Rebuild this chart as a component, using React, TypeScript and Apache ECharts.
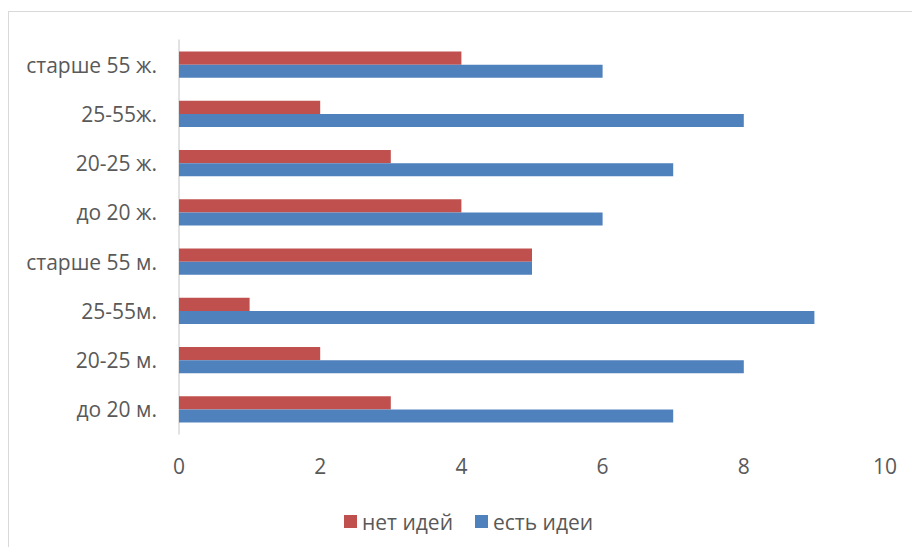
import React, { useEffect, useRef } from "react";
import * as echarts from "echarts";

const categories = [
  "до 20 м.",
  "20-25 м.",
  "25-55м.",
  "старше 55 м.",
  "до 20 ж.",
  "20-25 ж.",
  "25-55ж.",
  "старше 55 ж.",
];
const noIdeas = [3, 2, 1, 5, 4, 3, 2, 4];
const hasIdeas = [7, 8, 9, 5, 6, 7, 8, 6];
const xTicks = { min: 0, max: 10, interval: 2 };

const FONT = "'Open Sans', sans-serif";
const TEXT = "#595959";
const FS = 21;

export default function App() {
  const ref = useRef<HTMLDivElement>(null);
  useEffect(() => {
    if (!ref.current) return;
    const chart = echarts.init(ref.current, undefined, { renderer: "svg" });
    chart.setOption({
      animation: false,
      textStyle: { fontFamily: FONT },
      grid: { left: 170, right: 27, top: 28, bottom: 113, containLabel: false },
      legend: {
        data: ["нет идей", "есть идеи"],
        left: 330,
        top: 494,
        itemWidth: 13,
        itemHeight: 13,
        itemGap: 22,
        icon: "rect",
        textStyle: { fontFamily: FONT, fontSize: FS, color: TEXT },
      },
      xAxis: {
        type: "value",
        min: xTicks.min,
        max: xTicks.max,
        interval: xTicks.interval,
        axisLine: { show: false },
        axisTick: { show: false },
        splitLine: { show: false },
        axisLabel: { fontFamily: FONT, fontSize: FS, color: TEXT, margin: 21 },
      },
      yAxis: {
        type: "category",
        data: categories,
        axisLine: { show: true, lineStyle: { color: "#d9d9d9", width: 1.5 } },
        axisTick: { show: false },
        axisLabel: { fontFamily: FONT, fontSize: FS, color: TEXT, margin: 22 },
      },
      series: [
        {
          name: "нет идей",
          type: "bar",
          data: noIdeas,
          barGap: "0%",
          barCategoryGap: "47%",
          itemStyle: { color: "#C0504D" },
        },
        {
          name: "есть идеи",
          type: "bar",
          data: hasIdeas,
          barGap: "0%",
          barCategoryGap: "47%",
          itemStyle: { color: "#4F81BD" },
        },
      ],
    });
    return () => chart.dispose();
  }, []);
  return (
    <div
      style={{
        position: "fixed",
        left: 8,
        top: 11,
        width: 903,
        height: 535,
        border: "1.5px solid #d9d9d9",
        borderRight: "none",
        borderBottom: "none",
        background: "#fff",
      }}
    >
      <div ref={ref} style={{ width: 903, height: 535 }} />
    </div>
  );
}
